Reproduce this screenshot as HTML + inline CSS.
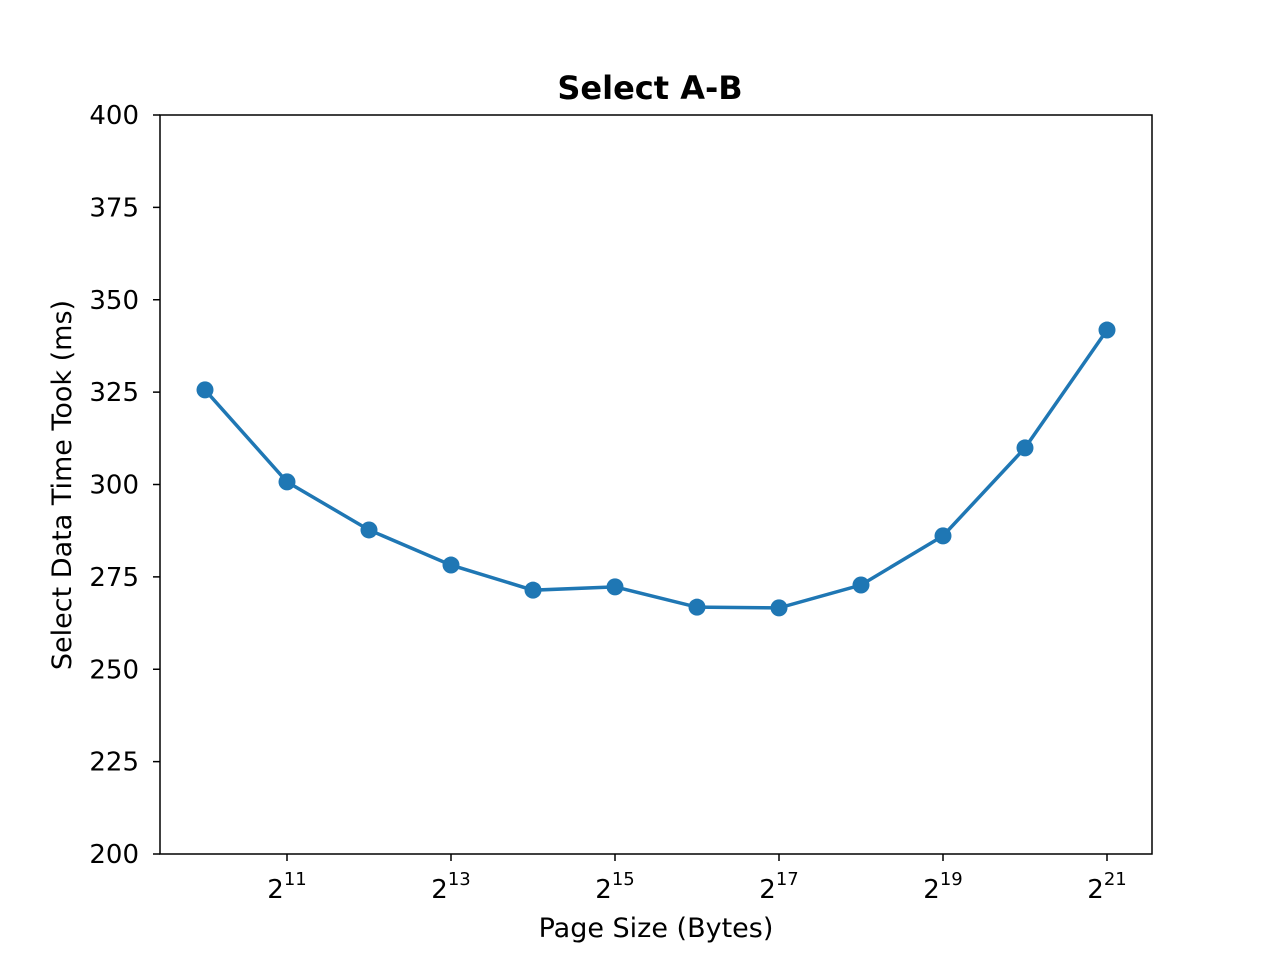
<!DOCTYPE html>
<html><head><meta charset="utf-8"><style>
body{margin:0;background:#fff;}
text{font-family:"DejaVu Sans","Liberation Sans",sans-serif;fill:#000;}
</style></head><body>
<svg id="chart" width="1280" height="960" xmlns="http://www.w3.org/2000/svg">
<rect width="1280" height="960" fill="#fff"/>
<text x="650" y="99" text-anchor="middle" font-size="32" font-weight="bold">Select A-B</text>
<g id="yticks"></g><g id="xticks"></g>
<polyline id="line" fill="none" stroke="#1f77b4" stroke-width="3.5"/>
<g id="points"></g>
<rect x="160" y="115" width="992" height="739" fill="none" stroke="#000" stroke-width="1.5"/>
<text x="656" y="937" text-anchor="middle" font-size="27">Page Size (Bytes)</text>
<text transform="translate(71,485) rotate(-90)" text-anchor="middle" font-size="27">Select Data Time Took (ms)</text>
</svg>
<script>
const exponents=[10,11,12,13,14,15,16,17,18,19,20,21];
const values=[325.6,300.7,287.7,278.2,271.4,272.3,266.8,266.6,272.8,286.1,309.9,341.8];
const yTicks=[200,225,250,275,300,325,350,375,400];
const xTickExps=[11,13,15,17,19,21];
const NS="http://www.w3.org/2000/svg";
const L=160,R=1152,T=115,B=854;
const xs=e=>205+(e-10)*82;
const ys=v=>B-(v-200)/200*(B-T);
function mk(tag,attrs,parent){const el=document.createElementNS(NS,tag);for(const k in attrs)el.setAttribute(k,attrs[k]);parent.appendChild(el);return el;}
const yg=document.getElementById('yticks');
yTicks.forEach(v=>{const y=ys(v);
 const l=mk('line',{x1:L-7,x2:L,y1:y,y2:y,stroke:'#000','stroke-width':1.5},yg);
 
 
 const t=mk('text',{x:L-21,y:y+9,'text-anchor':'end','font-size':26},yg);t.textContent=v;
 
 });
const xg=document.getElementById('xticks');
xTickExps.forEach(e=>{const x=xs(e);
 const l=mk('line',{x1:x,x2:x,y1:B,y2:B+7,stroke:'#000','stroke-width':1.5},xg);
 
 
 const t=mk('text',{x:x,y:B+44,'text-anchor':'middle','font-size':26},xg);
 
 
 t.innerHTML='2<tspan font-size="18" dy="-13">'+e+'</tspan>';});
document.getElementById('line').setAttribute('points',exponents.map((e,i)=>xs(e)+','+ys(values[i])).join(' '));
const pg=document.getElementById('points');
exponents.forEach((e,i)=>{const c=mk('circle',{cx:xs(e),cy:ys(values[i]),r:8.5,fill:'#1f77b4'},pg);
 
 });
</script>
</body></html>
